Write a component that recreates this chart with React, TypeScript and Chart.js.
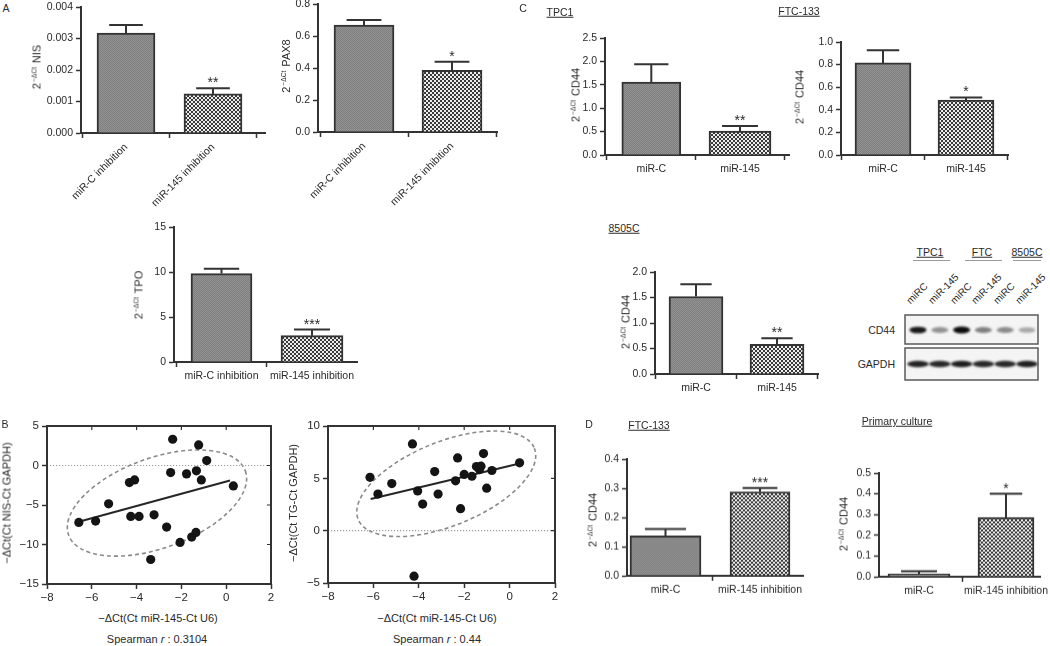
import React, { useEffect, useRef } from 'react';
import { Chart, registerables } from 'chart.js';

Chart.register(...registerables);

const FONT = '"Liberation Sans", Arial, Helvetica, sans-serif';
const INK = '#2a2a2a';
const AXIS = '#333333';

// ---------------- DATA ----------------
// Panel A (qPCR after miR-145 inhibition)
const A_CATS = ['miR-C inhibition', 'miR-145 inhibition'];
const NIS_MEAN = [0.00317, 0.00124];
const NIS_SEM = [0.00026, 0.00018];
const NIS_SIG = ['', '**'];
const NIS_TICKS = [0, 0.001, 0.002, 0.003, 0.004];

const PAX8_MEAN = [0.669, 0.386];
const PAX8_SEM = [0.031, 0.053];
const PAX8_SIG = ['', '*'];
const PAX8_TICKS = [0, 0.2, 0.4, 0.6, 0.8];

const TPO_MEAN = [9.82, 2.93];
const TPO_SEM = [0.55, 0.67];
const TPO_SIG = ['', '***'];
const TPO_TICKS = [0, 5, 10, 15];

// Panel C (CD44 after miR-145 overexpression)
const C_CATS = ['miR-C', 'miR-145'];
const TPC1_MEAN = [1.56, 0.51];
const TPC1_SEM = [0.38, 0.11];
const TPC1_SIG = ['', '**'];
const TPC1_TICKS = [0, 0.5, 1.0, 1.5, 2.0, 2.5];

const FTC_MEAN = [0.815, 0.485];
const FTC_SEM = [0.112, 0.024];
const FTC_SIG = ['', '*'];
const FTC_TICKS = [0, 0.2, 0.4, 0.6, 0.8, 1.0];

const C8505_MEAN = [1.52, 0.58];
const C8505_SEM = [0.24, 0.12];
const C8505_SIG = ['', '**'];
const C8505_TICKS = [0, 0.5, 1.0, 1.5, 2.0];

// Panel D (CD44 after miR-145 inhibition)
const D_CATS = ['miR-C', 'miR-145 inhibition'];
const DFTC_MEAN = [0.137, 0.288];
const DFTC_SEM = [0.023, 0.013];
const DFTC_SIG = ['', '***'];
const DFTC_TICKS = [0, 0.1, 0.2, 0.3, 0.4];

const PRIM_MEAN = [0.013, 0.286];
const PRIM_SEM = [0.014, 0.114];
const PRIM_SIG = ['', '*'];
const PRIM_TICKS = [0, 0.1, 0.2, 0.3, 0.4, 0.5];

// Panel B (correlations)
const B_XTICKS = [-8, -6, -4, -2, 0, 2];
const NIS_X = [-2.39, -1.23, -0.87, -2.48, -1.77, -1.33, -1.11, -4.32, -4.09, 0.32, -5.25, -6.58, -5.83, -4.26, -3.89, -3.22, -2.66, -2.06, -1.54, -1.35, -3.37];
const NIS_Y = [3.32, 2.6, 0.62, -0.89, -1.06, -0.68, -1.82, -2.16, -1.82, -2.58, -4.85, -7.21, -7.04, -6.45, -6.45, -6.24, -7.8, -9.74, -9.06, -8.47, -11.9];
const NIS_FIT_X = [-6.58, 0.17];
const NIS_FIT_Y = [-7.13, -1.9];
const NIS_YTICKS = [-15, -10, -5, 0, 5];
const NIS_ELLIPSE_CENTER = [-3.09, -4.75];

const TG_X = [-4.28, -6.15, -5.8, -5.19, -4.05, -3.83, -3.3, -3.15, -2.29, -2.38, -2.0, -1.66, -2.16, -1.46, -1.26, -1.15, -1.33, -1.01, -0.78, 0.44, -4.21];
const TG_Y = [8.29, 5.1, 3.5, 4.5, 3.8, 2.54, 5.65, 3.5, 6.95, 4.76, 5.37, 5.2, 2.1, 6.13, 6.16, 7.37, 5.84, 4.06, 5.75, 6.48, -4.35];
const TG_FIT_X = [-6.12, 0.44];
const TG_FIT_Y = [3.02, 6.41];
const TG_YTICKS = [-5, 0, 5, 10];
const TG_ELLIPSE_CENTER = [-2.79, 4.48];

// Western blot (band intensities)
const BLOT_GROUPS = ['TPC1', 'FTC', '8505C'];
const BLOT_LANES = ['miRC', 'miR-145', 'miRC', 'miR-145', 'miRC', 'miR-145'];
const CD44_BAND = [0.95, 0.42, 1.0, 0.5, 0.45, 0.32];
const GAPDH_BAND = [0.9, 0.88, 0.92, 0.88, 0.88, 0.92];

// ---------------- LAYOUT ----------------
const LAYOUT: any = {
  nis: { L: 81, R: 265, T: 7, B: 133, c: [126, 213], w: [58, 58], rot: 45, dec: 3 },
  pax8: { L: 318, R: 497, T: 4, B: 132, c: [364, 452], w: [60, 60], rot: 45, dec: 1 },
  tpo: { L: 174, R: 357, T: 227, B: 362, c: [221.5, 312], w: [61, 62], rot: 0, dec: 0 },
  tpc1: { L: 605, R: 789, T: 37.7, B: 155, c: [651.3, 740], w: [59, 62], rot: 0, dec: 1 },
  ftc: { L: 841, R: 1008, T: 41.7, B: 155, c: [883, 966], w: [56, 56], rot: 0, dec: 1 },
  c8505: { L: 655, R: 818, T: 272, B: 374, c: [696, 777], w: [54, 54], rot: 0, dec: 1 },
  dftc: { L: 627, R: 803, T: 459.3, B: 576, c: [665.5, 760], w: [71, 60], rot: 0, dec: 1 },
  prim: { L: 879, R: 1040, T: 473, B: 576.7, c: [919, 1006], w: [62, 56], rot: 0, dec: 1 },
};

const SCATTER_LAYOUT: any = {
  nis: { L: 47, R: 271, T: 426, B: 584, ea: 94, eb: 45, erot: 20 },
  tg: { L: 328, R: 555, T: 426, B: 583, ea: 95, eb: 42, erot: 22 },
};

function zeroPad(s: any) {
  s.paddingLeft = 0; s.paddingRight = 0; s.paddingTop = 0; s.paddingBottom = 0;
}

function makePatterns(ctx: CanvasRenderingContext2D) {
  const t1 = document.createElement('canvas');
  t1.width = 2; t1.height = 2;
  const g1 = t1.getContext('2d')!;
  g1.fillStyle = '#939393'; g1.fillRect(0, 0, 2, 2);
  g1.fillStyle = '#7f7f7f'; g1.fillRect(0, 0, 1, 1); g1.fillRect(1, 1, 1, 1);
  const t2 = document.createElement('canvas');
  t2.width = 4; t2.height = 4;
  const g2 = t2.getContext('2d')!;
  g2.fillStyle = '#ececec'; g2.fillRect(0, 0, 4, 4);
  g2.fillStyle = '#3a3a3a'; g2.fillRect(0, 0, 2, 2); g2.fillRect(2, 2, 2, 2);
  return [ctx.createPattern(t1, 'repeat'), ctx.createPattern(t2, 'repeat')];
}

const tickFont = (size: number) => ({ family: FONT, size });
const gridOpts = { display: true, drawOnChartArea: false, drawTicks: true, tickLength: 5, tickColor: AXIS, tickWidth: 1.5, color: AXIS };

function BarChart({ cats, mean, sem, sig, ticks, lay }: any) {
  const ref = useRef<HTMLCanvasElement>(null);
  const yw = 60, pt = 10, pr = 10, xh = lay.rot ? 90 : 40;
  const left = lay.L - yw, top = lay.T - pt;
  const width = lay.R - lay.L + yw + pr, height = lay.B - lay.T + pt + xh;
  useEffect(() => {
    const cv = ref.current!;
    const pats = makePatterns(cv.getContext('2d')!);
    const span = lay.c[1] - lay.c[0];
    const xmin = 1 - (lay.c[0] - lay.L) / span;
    const xmax = 2 + (lay.R - lay.c[1]) / span;
    const errPlugin = {
      id: 'errbars',
      afterDatasetsDraw(chart: any) {
        const ctx = chart.ctx; const ys = chart.scales.y;
        mean.forEach((m: number, i: number) => {
          const el = chart.getDatasetMeta(i).data[0];
          const x = el.x;
          const y0 = ys.getPixelForValue(m);
          const y1 = ys.getPixelForValue(m + sem[i]);
          const cap = lay.w[i] * 0.58;
          ctx.save();
          ctx.strokeStyle = AXIS; ctx.lineWidth = 2;
          ctx.beginPath();
          ctx.moveTo(x, y0); ctx.lineTo(x, y1);
          ctx.moveTo(x - cap / 2, y1); ctx.lineTo(x + cap / 2, y1);
          ctx.stroke();
          if (sig[i]) {
            ctx.fillStyle = INK; ctx.font = `14px ${FONT}`;
            ctx.textAlign = 'center'; ctx.textBaseline = 'alphabetic';
            ctx.fillText(sig[i], x, y1 - 1);
          }
          ctx.restore();
        });
      },
    };
    const chart = new Chart(cv, {
      type: 'bar',
      data: {
        datasets: mean.map((m: number, i: number) => ({
          data: [{ x: i + 1, y: m }],
          backgroundColor: pats[i],
          borderColor: AXIS,
          borderWidth: 2,
          barThickness: lay.w[i],
          grouped: false,
        })),
      } as any,
      options: {
        responsive: false,
        animation: false,
        events: [],
        layout: { padding: { top: pt, right: pr, left: 0, bottom: 0 } },
        plugins: { legend: { display: false }, tooltip: { enabled: false } },
        scales: {
          x: {
            type: 'linear', min: xmin, max: xmax, offset: false,
            afterBuildTicks: (s: any) => { s.ticks = cats.map((_: any, i: number) => ({ value: i + 1 })); },
            afterFit: (s: any) => { s.height = xh; zeroPad(s); },
            ticks: {
              autoSkip: false,
              callback: (v: any) => cats[Math.round(v) - 1] ?? '',
              minRotation: lay.rot, maxRotation: lay.rot,
              font: tickFont(10.5), color: INK, padding: 3,
            },
            grid: gridOpts,
            border: { display: true, color: AXIS, width: 2 },
          },
          y: {
            type: 'linear', min: ticks[0], max: ticks[ticks.length - 1],
            afterBuildTicks: (s: any) => { s.ticks = ticks.map((v: number) => ({ value: v })); },
            afterFit: (s: any) => { s.width = yw; zeroPad(s); },
            ticks: {
              callback: (v: any) => Number(v).toFixed(lay.dec),
              font: tickFont(10.5), color: INK, padding: 3,
            },
            grid: gridOpts,
            border: { display: true, color: AXIS, width: 2 },
          },
        },
      } as any,
      plugins: [errPlugin],
    });
    return () => chart.destroy();
  }, []);
  return (
    <canvas ref={ref} width={width} height={height}
      style={{ position: 'absolute', left, top, width, height }} />
  );
}

const minusFmt = (v: number) => (v < 0 ? '\u2212' + Math.abs(v) : String(v));

function ScatterChart({ xs, ys, fitX, fitY, yticks, center, lay }: any) {
  const ref = useRef<HTMLCanvasElement>(null);
  const yw = lay.L < 100 ? lay.L : 40, pt = 10, pr = 10, xh = 26;
  const left = lay.L - yw, top = lay.T - pt;
  const width = lay.R - lay.L + yw + pr, height = lay.B - lay.T + pt + xh;
  useEffect(() => {
    const cv = ref.current!;
    const decor = {
      id: 'decor',
      beforeDatasetsDraw(chart: any) {
        const ctx = chart.ctx; const sx = chart.scales.x; const sy = chart.scales.y;
        const cx = sx.getPixelForValue(center[0]);
        const cy = sy.getPixelForValue(center[1]);
        ctx.save();
        ctx.strokeStyle = '#8a8a8a'; ctx.lineWidth = 1.6; ctx.setLineDash([4, 3]);
        ctx.beginPath();
        ctx.ellipse(cx, cy, lay.ea, lay.eb, -lay.erot * Math.PI / 180, 0, Math.PI * 2);
        ctx.stroke();
        ctx.restore();
      },
      afterDatasetsDraw(chart: any) {
        const ctx = chart.ctx; const a = chart.chartArea;
        const sx = chart.scales.x; const sy = chart.scales.y;
        ctx.save();
        ctx.strokeStyle = AXIS; ctx.lineWidth = 2;
        ctx.strokeRect(a.left, a.top, a.right - a.left, a.bottom - a.top);
        ctx.lineWidth = 1.2;
        ctx.beginPath();
        B_XTICKS.forEach((v) => {
          const x = sx.getPixelForValue(v);
          ctx.moveTo(x, a.top); ctx.lineTo(x, a.top + 4);
        });
        yticks.forEach((v: number) => {
          const y = sy.getPixelForValue(v);
          ctx.moveTo(a.right, y); ctx.lineTo(a.right - 4, y);
        });
        ctx.stroke();
        ctx.restore();
      },
    };
    const chart = new Chart(cv, {
      type: 'scatter',
      data: {
        datasets: [
          {
            type: 'scatter',
            data: xs.map((x: number, i: number) => ({ x, y: ys[i] })),
            pointRadius: 4.6, pointBackgroundColor: '#141414', pointBorderWidth: 0,
            order: 0,
          },
          {
            type: 'line',
            data: fitX.map((x: number, i: number) => ({ x, y: fitY[i] })),
            borderColor: '#262626', borderWidth: 2, pointRadius: 0, order: 1,
          },
          {
            type: 'line',
            data: [{ x: B_XTICKS[0], y: 0 }, { x: B_XTICKS[B_XTICKS.length - 1], y: 0 }],
            borderColor: '#9c9c9c', borderWidth: 1.2, borderDash: [1.2, 1.8], pointRadius: 0, order: 2,
          },
        ],
      } as any,
      options: {
        responsive: false,
        animation: false,
        events: [],
        layout: { padding: { top: pt, right: pr, left: 0, bottom: 0 } },
        plugins: { legend: { display: false }, tooltip: { enabled: false } },
        scales: {
          x: {
            type: 'linear', min: B_XTICKS[0], max: B_XTICKS[B_XTICKS.length - 1],
            afterBuildTicks: (s: any) => { s.ticks = B_XTICKS.map((v) => ({ value: v })); },
            afterFit: (s: any) => { s.height = xh; zeroPad(s); },
            ticks: { callback: (v: any) => minusFmt(v), font: tickFont(11.5), color: INK, padding: 2, maxRotation: 0, autoSkip: false },
            grid: gridOpts,
            border: { display: false },
          },
          y: {
            type: 'linear', min: yticks[0], max: yticks[yticks.length - 1],
            afterBuildTicks: (s: any) => { s.ticks = yticks.map((v: number) => ({ value: v })); },
            afterFit: (s: any) => { s.width = yw; zeroPad(s); },
            ticks: { callback: (v: any) => minusFmt(v), font: tickFont(11.5), color: INK, padding: 3 },
            grid: gridOpts,
            border: { display: false },
          },
        },
      } as any,
      plugins: [decor],
    });
    return () => chart.destroy();
  }, []);
  return (
    <canvas ref={ref} width={width} height={height}
      style={{ position: 'absolute', left, top, width, height }} />
  );
}

const BLOT = { x: 900, y: 310, w: 145, h: 75, boxL: 5, boxW: 133, lane0: 18, laneStep: 21.8 };

function Blot() {
  const ref = useRef<HTMLCanvasElement>(null);
  useEffect(() => {
    const ctx = ref.current!.getContext('2d')!;
    ctx.clearRect(0, 0, BLOT.w, BLOT.h);
    const boxes = [[BLOT.boxL, 5, BLOT.boxW, 29], [BLOT.boxL, 38, BLOT.boxW, 32]];
    boxes.forEach(([x, y, w, h]) => {
      ctx.fillStyle = '#f4f4f4'; ctx.fillRect(x, y, w, h);
    });
    ctx.save();
    ctx.filter = 'blur(1.1px)';
    CD44_BAND.forEach((a, i) => {
      const lx = BLOT.lane0 + i * BLOT.laneStep;
      ctx.fillStyle = `rgba(12,12,12,${a})`;
      ctx.beginPath(); ctx.ellipse(lx, 20, 8.5, 2.6 + a * 0.8, 0, 0, Math.PI * 2); ctx.fill();
    });
    GAPDH_BAND.forEach((a, i) => {
      const lx = BLOT.lane0 + i * BLOT.laneStep;
      ctx.fillStyle = `rgba(12,12,12,${a})`;
      ctx.beginPath(); ctx.ellipse(lx, 54, 10.8, 3.3, 0, 0, Math.PI * 2); ctx.fill();
    });
    ctx.restore();
    boxes.forEach(([x, y, w, h]) => {
      ctx.strokeStyle = '#5a5a5a'; ctx.lineWidth = 1.5; ctx.strokeRect(x, y, w, h);
    });
  }, []);
  return (
    <canvas ref={ref} width={BLOT.w} height={BLOT.h}
      style={{ position: 'absolute', left: BLOT.x, top: BLOT.y, width: BLOT.w, height: BLOT.h }} />
  );
}

function Txt({ x, y, s = 10.5, rot = 0, u = false, align = 'center', children }: any) {
  const tx = align === 'right' ? '-100%' : align === 'left' ? '0%' : '-50%';
  return (
    <div style={{
      position: 'absolute', left: x, top: y,
      transform: `translate(${tx},-50%) rotate(${rot}deg)`,
      fontFamily: FONT, fontSize: s, color: INK, whiteSpace: 'nowrap', lineHeight: 1,
      textDecoration: u ? 'underline' : 'none',
    }}>{children}</div>
  );
}

const Sup = () => (
  <span style={{ fontSize: '0.6em', position: 'relative', top: '-0.6em', margin: '0 1px' }}>{'\u2212\u0394Ct'}</span>
);

function YTitle({ x, y, label }: any) {
  return <Txt x={x} y={y} s={11} rot={-90}>2<Sup /> {label}</Txt>;
}

function LaneLabel({ x, y, text }: any) {
  return (
    <div style={{
      position: 'absolute', left: x, top: y - 10, transformOrigin: '0% 100%', transform: 'rotate(-45deg)',
      fontFamily: FONT, fontSize: 10, lineHeight: '10px', color: INK, whiteSpace: 'nowrap',
    }}>{text}</div>
  );
}

export default function App() {
  const groupLines = [[913, 950], [965, 1002], [1013, 1041]];
  const groupCenters = [930, 982, 1027];
  return (
    <div style={{ position: 'fixed', left: 0, top: 0, width: 1050, height: 646, background: '#fff', overflow: 'hidden' }}>
      <BarChart cats={A_CATS} mean={NIS_MEAN} sem={NIS_SEM} sig={NIS_SIG} ticks={NIS_TICKS} lay={LAYOUT.nis} />
      <BarChart cats={A_CATS} mean={PAX8_MEAN} sem={PAX8_SEM} sig={PAX8_SIG} ticks={PAX8_TICKS} lay={LAYOUT.pax8} />
      <BarChart cats={A_CATS} mean={TPO_MEAN} sem={TPO_SEM} sig={TPO_SIG} ticks={TPO_TICKS} lay={LAYOUT.tpo} />
      <BarChart cats={C_CATS} mean={TPC1_MEAN} sem={TPC1_SEM} sig={TPC1_SIG} ticks={TPC1_TICKS} lay={LAYOUT.tpc1} />
      <BarChart cats={C_CATS} mean={FTC_MEAN} sem={FTC_SEM} sig={FTC_SIG} ticks={FTC_TICKS} lay={LAYOUT.ftc} />
      <BarChart cats={C_CATS} mean={C8505_MEAN} sem={C8505_SEM} sig={C8505_SIG} ticks={C8505_TICKS} lay={LAYOUT.c8505} />
      <BarChart cats={D_CATS} mean={DFTC_MEAN} sem={DFTC_SEM} sig={DFTC_SIG} ticks={DFTC_TICKS} lay={LAYOUT.dftc} />
      <BarChart cats={D_CATS} mean={PRIM_MEAN} sem={PRIM_SEM} sig={PRIM_SIG} ticks={PRIM_TICKS} lay={LAYOUT.prim} />
      <ScatterChart xs={NIS_X} ys={NIS_Y} fitX={NIS_FIT_X} fitY={NIS_FIT_Y} yticks={NIS_YTICKS} center={NIS_ELLIPSE_CENTER} lay={SCATTER_LAYOUT.nis} />
      <ScatterChart xs={TG_X} ys={TG_Y} fitX={TG_FIT_X} fitY={TG_FIT_Y} yticks={TG_YTICKS} center={TG_ELLIPSE_CENTER} lay={SCATTER_LAYOUT.tg} />
      <Blot />

      {/* panel letters */}
      <Txt x={6} y={8}>A</Txt>
      <Txt x={5} y={424}>B</Txt>
      <Txt x={523} y={8}>C</Txt>
      <Txt x={589} y={424}>D</Txt>

      {/* titles */}
      <Txt x={560} y={12} u>TPC1</Txt>
      <Txt x={799} y={11} u>FTC-133</Txt>
      <Txt x={624} y={228} u>8505C</Txt>
      <Txt x={649} y={425} u>FTC-133</Txt>
      <Txt x={897} y={421} u>Primary culture</Txt>

      {/* y-axis titles */}
      <YTitle x={37} y={67} label="NIS" />
      <YTitle x={286} y={66} label="PAX8" />
      <YTitle x={139} y={295} label="TPO" />
      <YTitle x={576} y={95} label="CD44" />
      <YTitle x={800} y={97} label="CD44" />
      <YTitle x={626} y={322} label="CD44" />
      <YTitle x={593} y={520} label="CD44" />
      <YTitle x={844} y={524} label="CD44" />

      {/* scatter titles */}
      <Txt x={7} y={503} s={11} rot={-90}>{'\u2212\u0394Ct(Ct NIS-Ct GAPDH)'}</Txt>
      <Txt x={293} y={503} s={11} rot={-90}>{'\u2212\u0394Ct(Ct TG-Ct GAPDH)'}</Txt>
      <Txt x={158} y={618} s={11}>{'\u2212\u0394Ct(Ct miR-145-Ct U6)'}</Txt>
      <Txt x={437} y={618} s={11}>{'\u2212\u0394Ct(Ct miR-145-Ct U6)'}</Txt>
      <Txt x={157} y={639} s={11}>Spearman <i>r</i> : 0.3104</Txt>
      <Txt x={437} y={639} s={11}>Spearman <i>r</i> : 0.44</Txt>

      {/* western blot labels */}
      {BLOT_GROUPS.map((g, i) => (
        <Txt key={g} x={groupCenters[i]} y={252} u>{g}</Txt>
      ))}
      {groupLines.map(([a, b], i) => (
        <div key={i} style={{ position: 'absolute', left: a, top: 260, width: b - a, height: 1, background: '#9a9a9a' }} />
      ))}
      {BLOT_LANES.map((t, i) => (
        <LaneLabel key={i} x={BLOT.x + BLOT.lane0 + i * BLOT.laneStep - 6} y={306} text={t} />
      ))}
      <Txt x={895} y={330} align="right">CD44</Txt>
      <Txt x={895} y={364} align="right">GAPDH</Txt>
    </div>
  );
}
